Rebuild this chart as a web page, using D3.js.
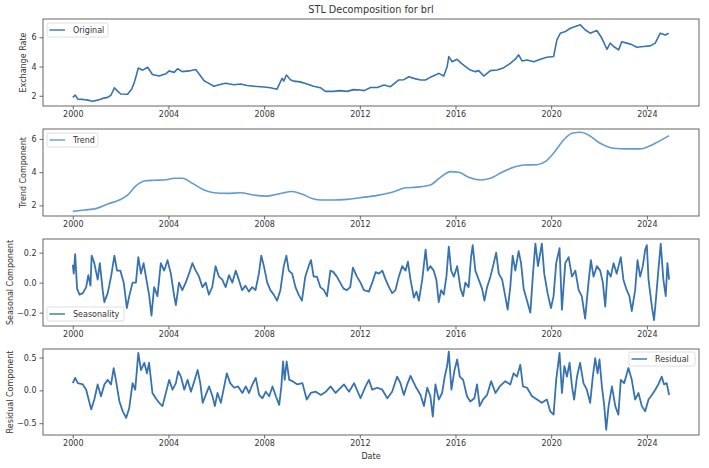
<!DOCTYPE html>
<html>
<head>
<meta charset="utf-8">
<script src="https://cdn.jsdelivr.net/npm/d3@7"></script>
<style>
  body { margin: 0; background: #fff; }
  text { font-family: "DejaVu Sans", sans-serif; fill: #333; }
</style>
</head>
<body>
<div id="chart"></div>
<script>
// Values: [decimal year, value]
const xTicks = [2000, 2004, 2008, 2012, 2016, 2020, 2024];

const originalData = [
  [2000.00,1.89],[2000.10,2.05],[2000.21,1.77],[2000.42,1.75],[2000.63,1.70],[2000.83,1.63],
  [2001.04,1.70],[2001.25,1.82],[2001.46,1.89],[2001.60,2.05],[2001.74,2.55],[2001.88,2.30],
  [2002.01,2.12],[2002.29,2.10],[2002.46,2.45],[2002.57,2.90],[2002.64,3.30],[2002.74,3.90],
  [2002.92,3.75],[2003.13,3.95],[2003.33,3.45],[2003.61,3.35],[2003.89,3.50],[2004.03,3.70],
  [2004.24,3.60],[2004.38,3.85],[2004.58,3.65],[2004.86,3.70],[2005.14,3.80],[2005.32,3.40],
  [2005.49,3.03],[2005.63,2.90],[2005.90,2.65],[2006.11,2.75],[2006.39,2.85],[2006.74,2.75],
  [2007.01,2.80],[2007.29,2.70],[2007.57,2.65],[2007.99,2.60],[2008.26,2.55],[2008.54,2.45],
  [2008.75,3.20],[2008.82,3.00],[2008.93,3.42],[2009.10,3.10],[2009.24,3.00],[2009.51,2.95],
  [2009.79,2.80],[2010.07,2.65],[2010.35,2.55],[2010.56,2.30],[2010.90,2.30],[2011.18,2.35],
  [2011.46,2.30],[2011.74,2.42],[2012.01,2.39],[2012.18,2.35],[2012.45,2.57],[2012.73,2.57],
  [2013.01,2.73],[2013.28,2.62],[2013.49,2.90],[2013.63,3.08],[2013.84,3.10],[2014.05,3.30],
  [2014.26,3.19],[2014.54,3.08],[2014.74,3.08],[2014.95,3.26],[2015.16,3.42],[2015.30,3.53],
  [2015.51,3.35],[2015.65,3.98],[2015.72,4.68],[2015.86,4.33],[2016.07,4.50],[2016.21,4.27],
  [2016.42,4.00],[2016.62,3.76],[2016.83,3.65],[2016.97,3.72],[2017.18,3.35],[2017.46,3.72],
  [2017.74,3.76],[2018.02,3.92],[2018.29,4.22],[2018.50,4.50],[2018.64,4.80],[2018.78,4.38],
  [2018.99,4.45],[2019.27,4.33],[2019.55,4.50],[2019.82,4.63],[2020.10,4.68],[2020.24,5.82],
  [2020.38,6.27],[2020.59,6.39],[2020.80,6.62],[2021.01,6.74],[2021.22,6.85],[2021.43,6.50],
  [2021.63,6.28],[2021.91,6.46],[2022.12,5.93],[2022.33,5.18],[2022.47,5.60],[2022.61,5.37],
  [2022.82,5.14],[2022.95,5.70],[2023.16,5.60],[2023.37,5.50],[2023.58,5.32],[2023.86,5.37],
  [2024.14,5.41],[2024.35,5.60],[2024.56,6.28],[2024.77,6.16],[2024.91,6.28]
];

const trendData = [
  [2000.00,1.64],[2000.49,1.72],[2001.00,1.82],[2001.46,2.08],[2001.94,2.32],[2002.29,2.62],
  [2002.64,3.17],[2002.99,3.47],[2003.40,3.51],[2003.82,3.53],[2004.24,3.63],[2004.58,3.63],
  [2005.00,3.33],[2005.49,2.92],[2005.90,2.76],[2006.46,2.72],[2007.01,2.76],[2007.57,2.62],
  [2008.13,2.56],[2008.68,2.72],[2009.17,2.84],[2009.58,2.68],[2010.00,2.42],[2010.42,2.32],
  [2010.90,2.32],[2011.46,2.36],[2012.01,2.46],[2012.73,2.60],[2013.42,2.82],[2013.91,3.06],
  [2014.40,3.10],[2014.95,3.23],[2015.37,3.69],[2015.79,4.03],[2016.14,3.99],[2016.55,3.69],
  [2017.04,3.53],[2017.46,3.63],[2017.94,3.99],[2018.43,4.29],[2018.85,4.43],[2019.41,4.45],
  [2019.75,4.63],[2020.10,5.14],[2020.52,5.94],[2020.87,6.34],[2021.22,6.40],[2021.56,6.24],
  [2022.05,5.74],[2022.61,5.44],[2023.16,5.40],[2023.72,5.40],[2024.07,5.54],[2024.48,5.84],
  [2024.93,6.20]
];

const seasonalData = [
  [2000.00,0.12],[2000.04,0.06],[2000.10,0.19],[2000.18,-0.04],[2000.28,-0.08],[2000.42,-0.07],
  [2000.56,-0.03],[2000.65,0.05],[2000.74,-0.02],[2000.79,0.18],[2000.90,0.13],[2001.04,0.02],
  [2001.13,0.13],[2001.25,-0.05],[2001.32,-0.13],[2001.46,-0.07],[2001.60,0.04],[2001.74,0.18],
  [2001.85,0.08],[2001.99,0.08],[2002.13,0.00],[2002.26,-0.17],[2002.36,-0.09],[2002.50,0.00],
  [2002.64,0.00],[2002.74,0.17],[2002.85,0.06],[2002.96,0.13],[2003.10,0.00],[2003.19,-0.08],
  [2003.29,-0.22],[2003.40,-0.03],[2003.54,-0.09],[2003.68,0.13],[2003.82,0.08],[2003.96,0.15],
  [2004.10,0.06],[2004.24,-0.09],[2004.31,-0.15],[2004.44,0.00],[2004.58,-0.05],[2004.72,0.00],
  [2004.86,0.06],[2005.00,0.13],[2005.14,0.08],[2005.28,0.04],[2005.42,-0.03],[2005.56,0.00],
  [2005.69,-0.08],[2005.83,-0.03],[2005.97,0.11],[2006.11,0.04],[2006.25,0.02],[2006.39,-0.03],
  [2006.53,0.05],[2006.67,0.00],[2006.81,0.08],[2006.94,0.02],[2007.08,-0.05],[2007.22,-0.02],
  [2007.36,-0.06],[2007.50,-0.03],[2007.64,-0.05],[2007.78,0.06],[2007.88,0.18],[2007.99,0.11],
  [2008.13,0.00],[2008.26,-0.05],[2008.40,-0.08],[2008.54,-0.12],[2008.68,-0.05],[2008.82,0.11],
  [2008.93,0.18],[2009.03,0.08],[2009.17,0.06],[2009.31,-0.03],[2009.44,-0.08],[2009.58,-0.12],
  [2009.72,0.04],[2009.86,0.11],[2009.96,0.15],[2010.07,0.04],[2010.21,0.04],[2010.35,-0.03],
  [2010.50,-0.05],[2010.63,-0.09],[2010.77,0.08],[2010.90,0.07],[2011.04,0.04],[2011.18,0.00],
  [2011.32,-0.04],[2011.46,-0.05],[2011.60,-0.03],[2011.71,0.10],[2011.88,0.04],[2012.03,0.00],
  [2012.17,-0.05],[2012.38,-0.06],[2012.52,0.00],[2012.66,0.07],[2012.80,0.06],[2012.94,0.08],
  [2013.08,0.02],[2013.22,-0.03],[2013.35,-0.07],[2013.49,-0.05],[2013.63,0.04],[2013.77,0.11],
  [2013.91,0.08],[2014.01,0.14],[2014.12,0.02],[2014.26,-0.10],[2014.37,-0.06],[2014.47,-0.12],
  [2014.61,0.02],[2014.75,0.22],[2014.84,0.08],[2014.95,0.11],[2015.09,0.08],[2015.20,0.02],
  [2015.30,-0.13],[2015.40,-0.05],[2015.51,-0.08],[2015.62,0.04],[2015.72,0.24],[2015.82,0.08],
  [2015.93,0.04],[2016.07,0.11],[2016.21,-0.04],[2016.32,-0.09],[2016.41,0.00],[2016.55,-0.03],
  [2016.65,0.17],[2016.72,0.25],[2016.83,0.08],[2016.97,0.02],[2017.11,-0.04],[2017.21,-0.12],
  [2017.32,-0.03],[2017.46,0.04],[2017.60,0.13],[2017.70,0.20],[2017.81,0.06],[2017.95,0.02],
  [2018.08,-0.09],[2018.18,-0.18],[2018.29,-0.03],[2018.39,0.18],[2018.50,0.08],[2018.64,0.21],
  [2018.74,0.13],[2018.85,-0.04],[2018.99,-0.12],[2019.13,-0.20],[2019.24,0.06],[2019.34,0.26],
  [2019.45,0.11],[2019.61,0.26],[2019.71,0.06],[2019.85,-0.07],[2019.99,-0.17],[2020.10,-0.09],
  [2020.21,0.13],[2020.35,0.23],[2020.45,-0.18],[2020.59,0.13],[2020.73,0.17],[2020.87,0.04],
  [2021.01,0.08],[2021.15,-0.05],[2021.28,-0.09],[2021.42,-0.24],[2021.56,0.00],[2021.66,0.15],
  [2021.77,0.04],[2021.91,0.11],[2022.05,0.08],[2022.16,0.00],[2022.26,-0.16],[2022.36,0.08],
  [2022.49,0.04],[2022.61,0.13],[2022.74,0.06],[2022.91,0.17],[2023.02,0.02],[2023.16,-0.05],
  [2023.27,-0.09],[2023.37,-0.19],[2023.51,-0.05],[2023.61,0.15],[2023.72,0.04],[2023.83,0.11],
  [2023.93,0.22],[2024.00,0.25],[2024.07,0.02],[2024.14,-0.07],[2024.21,-0.16],[2024.30,-0.25],
  [2024.39,-0.09],[2024.48,0.08],[2024.58,0.26],[2024.69,0.02],[2024.79,-0.09],[2024.86,0.13],
  [2024.93,0.02]
];

const residualData = [
  [2000.00,0.11],[2000.10,0.19],[2000.21,0.11],[2000.42,0.09],[2000.56,0.01],[2000.65,-0.12],
  [2000.77,-0.29],[2000.90,-0.14],[2001.04,0.09],[2001.18,-0.09],[2001.32,0.09],[2001.46,0.16],
  [2001.60,0.09],[2001.71,0.34],[2001.81,0.14],[2001.95,-0.17],[2002.09,-0.32],[2002.23,-0.42],
  [2002.36,-0.27],[2002.50,0.11],[2002.61,0.01],[2002.74,0.57],[2002.85,0.31],[2002.99,0.42],
  [2003.10,0.26],[2003.19,0.42],[2003.33,-0.04],[2003.47,-0.12],[2003.61,-0.19],[2003.75,-0.24],
  [2003.89,-0.04],[2004.03,0.16],[2004.17,0.01],[2004.31,0.11],[2004.41,0.29],[2004.52,0.21],
  [2004.66,0.01],[2004.80,0.16],[2004.94,-0.02],[2005.08,0.14],[2005.22,0.31],[2005.33,0.11],
  [2005.43,-0.19],[2005.56,-0.07],[2005.70,0.06],[2005.84,-0.09],[2005.94,-0.24],[2006.05,-0.04],
  [2006.19,-0.19],[2006.33,0.06],[2006.44,0.26],[2006.58,0.11],[2006.75,0.04],[2006.91,0.06],
  [2007.09,-0.04],[2007.23,0.06],[2007.37,-0.04],[2007.51,0.09],[2007.65,0.19],[2007.79,-0.07],
  [2007.93,-0.12],[2008.07,-0.02],[2008.21,-0.09],[2008.35,0.06],[2008.49,-0.09],[2008.63,-0.22],
  [2008.72,0.06],[2008.79,0.44],[2008.86,0.16],[2008.94,0.44],[2009.05,0.16],[2009.19,0.14],
  [2009.39,0.09],[2009.60,0.11],[2009.78,-0.14],[2009.95,-0.04],[2010.16,-0.02],[2010.37,-0.07],
  [2010.58,-0.02],[2010.78,0.06],[2010.99,-0.04],[2011.20,0.04],[2011.34,0.09],[2011.55,-0.02],
  [2011.76,0.11],[2012.03,-0.12],[2012.24,0.06],[2012.38,0.16],[2012.52,0.01],[2012.73,0.04],
  [2012.94,0.01],[2013.15,-0.12],[2013.35,-0.02],[2013.56,0.21],[2013.70,0.11],[2013.84,-0.07],
  [2013.98,0.09],[2014.12,0.22],[2014.33,0.06],[2014.54,-0.07],[2014.68,-0.24],[2014.82,0.04],
  [2014.95,-0.09],[2015.05,-0.40],[2015.16,0.09],[2015.30,-0.14],[2015.44,-0.04],[2015.55,0.21],
  [2015.65,0.37],[2015.72,0.59],[2015.83,0.01],[2015.96,0.31],[2016.07,0.47],[2016.18,0.21],
  [2016.32,0.16],[2016.48,-0.09],[2016.62,-0.17],[2016.79,-0.12],[2016.90,0.09],[2017.01,-0.24],
  [2017.15,-0.14],[2017.32,-0.07],[2017.49,0.14],[2017.67,-0.04],[2017.85,0.06],[2018.08,0.14],
  [2018.29,0.09],[2018.43,0.26],[2018.57,0.21],[2018.71,0.39],[2018.82,0.06],[2018.99,0.04],
  [2019.20,-0.09],[2019.41,-0.14],[2019.61,-0.19],[2019.82,-0.14],[2019.96,-0.32],[2020.10,-0.37],
  [2020.21,0.16],[2020.35,0.57],[2020.45,-0.04],[2020.55,0.37],[2020.66,0.21],[2020.77,0.42],
  [2020.87,0.06],[2020.96,-0.14],[2021.08,0.21],[2021.21,0.42],[2021.35,0.11],[2021.49,0.01],
  [2021.63,-0.19],[2021.74,0.21],[2021.84,0.49],[2021.94,0.26],[2022.02,0.47],[2022.12,0.06],
  [2022.22,-0.24],[2022.30,-0.60],[2022.40,-0.24],[2022.54,0.06],[2022.68,-0.24],[2022.81,-0.37],
  [2022.91,0.16],[2023.05,0.11],[2023.23,0.34],[2023.37,0.16],[2023.51,-0.14],[2023.65,-0.04],
  [2023.79,-0.24],[2023.93,-0.32],[2024.07,-0.14],[2024.21,-0.07],[2024.35,0.01],[2024.48,0.09],
  [2024.62,0.21],[2024.72,0.09],[2024.83,0.11],[2024.93,-0.07]
];

const width = 709, height = 468;
const left = 43, right = 699;

// one entry per subplot
const panels = [
  { data: originalData, name: "Original", ylabel: "Exchange Rate", top: 19, bottom: 106,
    domain: [1.30, 7.25], ticks: [2, 4, 6], fmt: d3.format("d"), labelX: 23,
    color: "#3773b0", lw: 1.6, legend: "tl", legendW: 61 },
  { data: trendData, name: "Trend", ylabel: "Trend Component", top: 129, bottom: 216,
    domain: [1.36, 6.60], ticks: [2, 4, 6], fmt: d3.format("d"), labelX: 23,
    color: "#639bd0", lw: 1.6, legend: "tl", legendW: 51, curve: true },
  { data: seasonalData, name: "Seasonality", ylabel: "Seasonal Component", top: 239, bottom: 326,
    domain: [-0.289, 0.291], ticks: [-0.2, 0, 0.2], fmt: d3.format(".1f"), labelX: 10,
    color: "#3773b0", lw: 1.8, legend: "bl", legendW: 77 },
  { data: residualData, name: "Residual", ylabel: "Residual Component", top: 349, bottom: 435,
    domain: [-0.68, 0.63], ticks: [-0.5, 0, 0.5], fmt: d3.format(".1f"), labelX: 10,
    color: "#3773b0", lw: 1.8, legend: "tr", legendW: 66 }
];

const svg = d3.select("#chart")
  .append("svg")
  .attr("width", width)
  .attr("height", height);

const xScale = d3.scaleLinear().domain([1998.755, 2026.18]).range([left, right]);

panels.forEach(p => {
  const yScale = d3.scaleLinear().domain(p.domain).range([p.bottom, p.top]);
  const g = svg.append("g");

  // the series line
  const line = d3.line()
    .x(d => xScale(d[0]))
    .y(d => yScale(d[1]))
    .curve(p.curve ? d3.curveMonotoneX : d3.curveLinear);

  g.append("path")
    .attr("d", line(p.data))
    .attr("fill", "none")
    .attr("stroke", p.color)
    .attr("stroke-width", p.lw)
    .attr("stroke-linejoin", "round");

  // axes
  const xAxis = g.append("g")
    .attr("transform", "translate(0," + p.bottom + ")")
    .call(d3.axisBottom(xScale).tickValues(xTicks).tickFormat(d3.format("d"))
      .tickSize(3.5).tickPadding(2));
  const yAxis = g.append("g")
    .attr("transform", "translate(" + left + ",0)")
    .call(d3.axisLeft(yScale).tickValues(p.ticks)
      .tickFormat(d => p.fmt(d).replace("-", "\u2212"))
      .tickSize(3.5).tickPadding(3));
  [xAxis, yAxis].forEach(a => {
    a.select(".domain").remove();
    a.selectAll("line").attr("stroke", "#444").attr("stroke-width", 0.8);
    a.selectAll("text").style("font-size", "8px").attr("fill", "#333")
      .style("font-family", "DejaVu Sans, sans-serif");
  });

  // frame
  g.append("rect")
    .attr("x", left).attr("y", p.top)
    .attr("width", right - left).attr("height", p.bottom - p.top)
    .attr("fill", "none").attr("stroke", "#555").attr("stroke-width", 0.9);

  // y label
  g.append("text")
    .attr("transform", "translate(" + p.labelX + "," + (p.top + p.bottom) / 2 + ") rotate(-90)")
    .attr("text-anchor", "middle")
    .attr("dy", "0.35em")
    .style("font-size", "8px")
    .text(p.ylabel);

  // legend box
  const lh = 14;
  let lx = left + 4, ly = p.top + 4;
  if (p.legend === "bl") ly = p.bottom - 4 - lh - 1;
  if (p.legend === "tr") { lx = right - 4 - p.legendW; ly = p.top + 3; }
  const lg = g.append("g").attr("transform", "translate(" + lx + "," + ly + ")");
  lg.append("rect")
    .attr("width", p.legendW).attr("height", lh)
    .attr("rx", 2)
    .attr("fill", "#fff").attr("fill-opacity", 0.85)
    .attr("stroke", "#d6d6d6").attr("stroke-width", 0.8);
  lg.append("line")
    .attr("x1", 2.5).attr("x2", 18)
    .attr("y1", lh / 2).attr("y2", lh / 2)
    .attr("stroke", p.color).attr("stroke-width", 1.4);
  lg.append("text")
    .attr("x", 26).attr("y", lh / 2).attr("dy", "0.35em")
    .style("font-size", "8px")
    .text(p.name);
});

// title and shared x label
svg.append("text")
  .attr("x", (left + right) / 2).attr("y", 10).attr("dy", "0.35em")
  .attr("text-anchor", "middle")
  .style("font-size", "9.7px")
  .text("STL Decomposition for brl");

svg.append("text")
  .attr("x", (left + right) / 2).attr("y", 456).attr("dy", "0.35em")
  .attr("text-anchor", "middle")
  .style("font-size", "8px")
  .text("Date");
</script>
</body>
</html>
